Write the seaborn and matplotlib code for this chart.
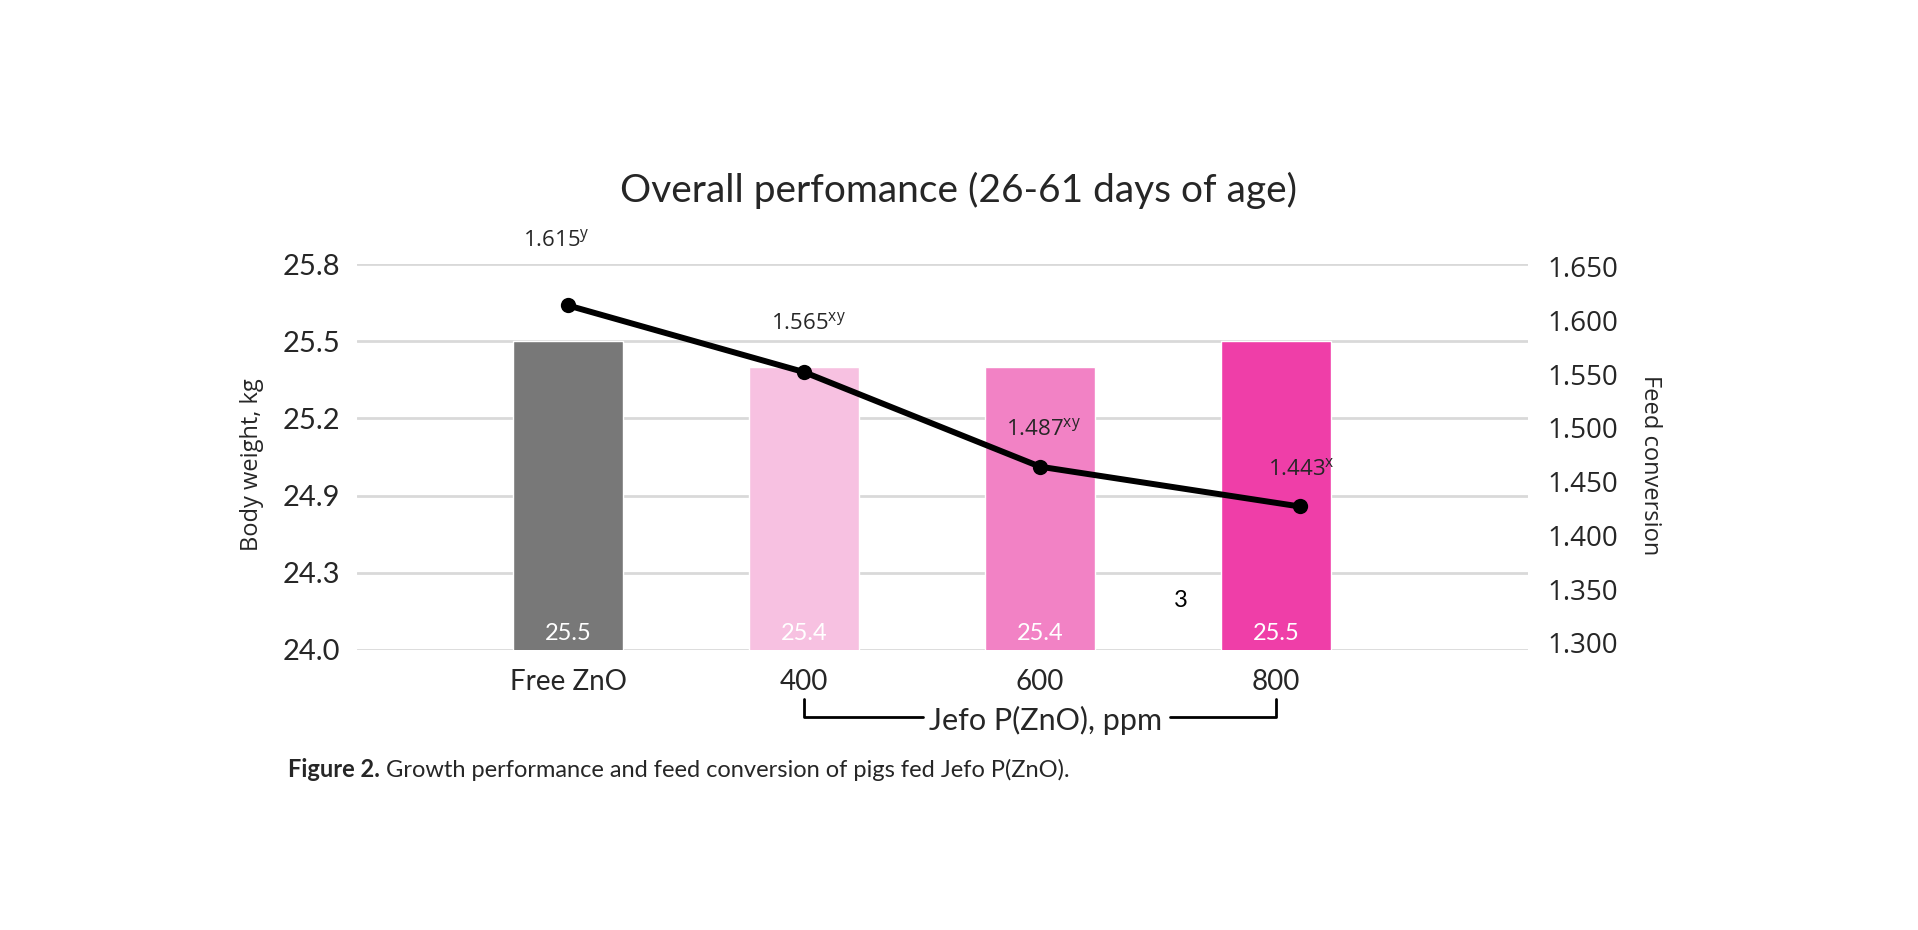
import pandas as pd
import seaborn as sns
import matplotlib.pyplot as plt
import matplotlib.transforms as mtransforms

# data
groups = ["Free ZnO", "400", "600", "800"]
positions = [0, 1, 2, 3]
body_weight = [25.5, 25.4, 25.4, 25.5]
fcr_x = [0, 1, 2, 3.1]
fcr = [1.614, 1.552, 1.464, 1.427]
fcr_labels = ["1.615", "1.565", "1.487", "1.443"]
fcr_letters = ["y", "xy", "xy", "x"]
bw_ticks = [24.3, 24.6, 24.9, 25.2, 25.5, 25.8]
bw_ticklabels = ["24.0", "24.3", "24.9", "25.2", "25.5", "25.8"]
fcr_ticks = [1.300, 1.350, 1.400, 1.450, 1.500, 1.550, 1.600, 1.650]

bar_colors = ["#787878", "#F7C1E1", "#F282C5", "#EF3EA8"]

sns.set_theme(style="white")
plt.rcParams['font.family'] = ['Lato', 'DejaVu Sans']

fig = plt.figure(figsize=(19.18, 9.30), dpi=100)
ax = fig.add_axes([0.1861, 0.3011, 0.6106, 0.4150])

df = pd.DataFrame({"pos": positions, "group": groups, "bw": body_weight})
sns.barplot(data=df, x="pos", y="bw", hue="group", palette=bar_colors,
            native_scale=True, width=0.466, saturation=1, legend=False, ax=ax)

ax.set_xlim(-0.894, 4.068)
ax.set_ylim(24.3, 25.8)
ax.set_yticks(bw_ticks)
ax.set_yticklabels(bw_ticklabels, fontsize=21)
ax.set_xticks(positions)
ax.set_xticklabels(groups, fontsize=20)
ax.tick_params(axis='x', length=0, pad=14)
ax.tick_params(axis='y', length=0, pad=12)
ax.yaxis.grid(True, color="#D9D9D9", lw=2)
ax.set_axisbelow(True)
ax.set_xlabel("")
ax.set_ylabel("")
for s in ax.spines.values():
    s.set_visible(False)

# values inside the bars
blend = mtransforms.blended_transform_factory(ax.transData, ax.transAxes)
for x, v in zip(positions, body_weight):
    ax.text(x, 0.042, f"{v}", transform=blend, ha="center", va="center",
            color="white", fontsize=17)

ax.text(2.597, 0.127, "3", transform=blend, ha="center", va="center",
        color="black", fontsize=17)

# feed conversion line
ax2 = ax.twinx()
sns.lineplot(x=fcr_x, y=fcr, ax=ax2, color="black", lw=4.3, marker="o",
             markersize=11, markeredgewidth=0)
ax2.set_ylim(1.2935, 1.6525)
ax2.set_yticks(fcr_ticks)
ax2.set_yticklabels([f"{t:.3f}" for t in fcr_ticks], fontsize=20,
                    family="Open Sans")
ax2.tick_params(axis='y', length=0, pad=14)
ax2.grid(False)
for s in ax2.spines.values():
    s.set_visible(False)

offsets = [(-12, 65), (4, 49), (3, 37), (2, 37)]
for x, y, lab, let, off in zip(fcr_x, fcr, fcr_labels, fcr_letters, offsets):
    ax2.annotate(lab + r"$^{\mathregular{" + let + "}}$", (x, y), xytext=off,
                 textcoords="offset pixels", ha="center", va="center",
                 fontsize=16, family="Open Sans")

# bracket under the Jefo doses
ax.plot([1, 1, 1.505], [-0.127, -0.1736, -0.1736], transform=blend,
        color="black", lw=2, clip_on=False)
ax.plot([2.55, 3, 3], [-0.1736, -0.1736, -0.127], transform=blend,
        color="black", lw=2, clip_on=False)
ax.text(2.025, -0.183, "Jefo P(ZnO), ppm", transform=blend, ha="center",
        va="center", fontsize=22)

fig.text(252 / 1918, 0.5, "Body weight, kg", rotation=90, ha="center",
         va="center", fontsize=17, family="Open Sans")
fig.text(1650 / 1918, 0.5, "Feed conversion", rotation=270, ha="center",
         va="center", fontsize=17, family="Open Sans")

fig.text(0.4995, 0.7957, "Overall perfomance (26-61 days of age)",
         ha="center", va="center", fontsize=28)

t1 = fig.text(288 / 1918, 1 - 781 / 930, "Figure 2.", fontweight="bold",
              ha="left", va="bottom", fontsize=17)
ax.annotate(" Growth performance and feed conversion of pigs fed Jefo P(ZnO).",
            xy=(1, 0), xycoords=t1, ha="left", va="bottom", fontsize=17,
            annotation_clip=False)

fig.savefig("out.png", dpi=100, facecolor="white")
